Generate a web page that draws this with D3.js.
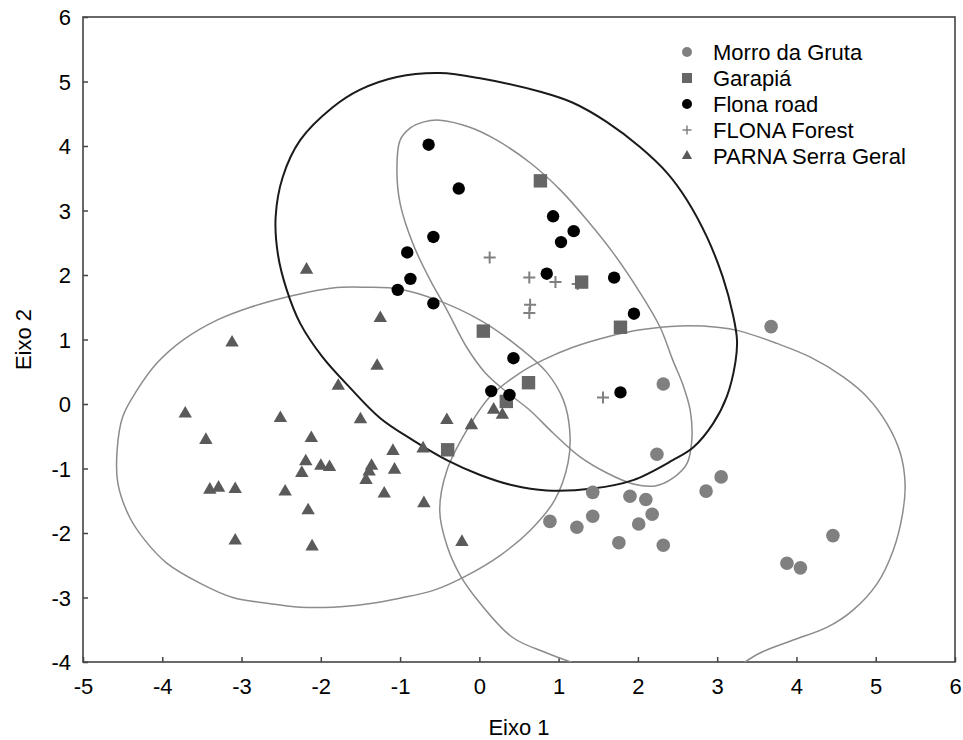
<!DOCTYPE html>
<html>
<head>
<meta charset="utf-8">
<script src="https://cdn.jsdelivr.net/npm/d3@7"></script>
<style>
  body { margin: 0; background: white; }
  svg text { font-family: "Liberation Sans", Arial, sans-serif; fill: #000; }
</style>
</head>
<body>
<script>
// ---- data ----
const groups = ["Morro da Gruta", "Garapiá", "Flona road", "FLONA Forest", "PARNA Serra Geral"]

const morroDaGruta = [[2.32,0.31],[2.24,-0.78],[3.05,-1.13],[2.86,-1.35],[1.43,-1.37],[1.90,-1.43],
  [2.10,-1.48],[1.43,-1.74],[2.18,-1.71],[0.89,-1.82],[1.23,-1.91],[2.01,-1.86],[1.76,-2.15],
  [2.32,-2.19],[4.46,-2.04],[3.88,-2.47],[4.05,-2.54],[3.68,1.20]]

const garapia = [[0.77,3.46],[1.29,1.89],[1.78,1.19],[0.05,1.13],[0.62,0.33],[0.34,0.04],[-0.40,-0.71]]

const flonaRoad = [[-0.64,4.02],[-0.26,3.34],[-0.58,2.59],[-0.91,2.35],[-0.87,1.94],[-1.03,1.77],
  [-0.58,1.56],[0.93,2.91],[1.19,2.68],[1.03,2.51],[0.85,2.02],[1.70,1.96],[1.95,1.40],
  [0.43,0.71],[0.15,0.20],[0.38,0.14],[1.78,0.18]]

const flonaForest = [[0.13,2.27],[0.63,1.96],[0.96,1.89],[1.24,1.86],[0.64,1.54],[0.63,1.41],[1.56,0.10]]

const parna = [[-2.18,2.08],[-1.25,1.33],[-3.12,0.95],[-1.29,0.59],[-1.78,0.28],[-3.71,-0.15],
  [-2.51,-0.22],[-1.50,-0.24],[-3.45,-0.56],[-2.12,-0.53],[-1.09,-0.73],[-2.19,-0.89],
  [-2.24,-1.07],[-2.00,-0.96],[-1.89,-0.98],[-1.36,-0.96],[-1.39,-1.05],[-1.43,-1.18],
  [-1.07,-1.02],[-3.40,-1.33],[-3.29,-1.30],[-3.08,-1.32],[-2.45,-1.36],[-1.20,-1.39],
  [-2.16,-1.65],[-3.08,-2.12],[-2.11,-2.21],[-0.41,-0.25],[-0.10,-0.33],[-0.71,-0.69],
  [0.18,-0.09],[0.29,-0.17],[-0.70,-1.54],[-0.22,-2.14]]

// outlines of the confidence regions, in axis units
const outlineFlonaRoad = [[-0.50,5.13],[0.01,5.05],[0.77,4.84],[1.18,4.67],[1.61,4.37],[2.03,3.98],
  [2.37,3.58],[2.62,3.16],[2.87,2.59],[3.07,1.97],[3.20,1.38],[3.25,0.99],[3.23,0.65],[3.12,0.11],
  [2.95,-0.30],[2.70,-0.67],[2.44,-0.87],[1.94,-1.18],[1.43,-1.31],[0.85,-1.34],[0.42,-1.26],
  [0.01,-1.10],[-0.41,-0.87],[-0.84,-0.56],[-1.25,-0.22],[-1.63,0.25],[-1.98,0.73],[-2.26,1.25],
  [-2.43,1.77],[-2.54,2.31],[-2.57,2.90],[-2.48,3.52],[-2.26,4.09],[-1.85,4.60],[-1.51,4.87],[-1.04,5.07]]

const outlineNarrow = [[-0.50,4.40],[-0.12,4.29],[0.22,4.09],[0.64,3.74],[1.02,3.32],[1.36,2.85],
  [1.69,2.34],[2.03,1.72],[2.28,1.19],[2.44,0.68],[2.57,0.29],[2.66,-0.10],[2.68,-0.56],[2.62,-0.92],
  [2.44,-1.15],[2.22,-1.27],[1.94,-1.24],[1.61,-1.07],[1.27,-0.82],[0.93,-0.45],[0.64,-0.10],
  [0.32,0.21],[0.07,0.49],[-0.16,0.88],[-0.41,1.46],[-0.62,1.92],[-0.84,2.49],[-1.00,3.11],
  [-1.04,3.63],[-1.00,4.09],[-0.87,4.28],[-0.71,4.37]]

const outlineParna = [[-1.85,1.80],[-1.42,1.81],[-1.00,1.78],[-0.53,1.61],[0.01,1.30],[0.51,0.87],
  [0.85,0.49],[1.06,0.06],[1.14,-0.41],[1.12,-0.90],[0.95,-1.49],[0.64,-1.96],[0.26,-2.35],
  [-0.16,-2.66],[-0.58,-2.89],[-1.00,-3.01],[-1.42,-3.10],[-1.85,-3.15],[-2.26,-3.15],[-2.68,-3.09],
  [-3.11,-3.00],[-3.52,-2.78],[-3.94,-2.47],[-4.22,-2.11],[-4.41,-1.76],[-4.56,-1.23],[-4.57,-0.72],
  [-4.50,-0.20],[-4.32,0.21],[-4.07,0.63],[-3.74,0.99],[-3.31,1.30],[-2.89,1.50],[-2.43,1.66]]

// this one runs off the bottom of the plot, so it is drawn open
const outlineMorro = [[3.29,-4.05],[3.54,-3.86],[3.96,-3.66],[4.39,-3.46],[4.71,-3.20],[5.02,-2.78],
  [5.22,-2.27],[5.34,-1.69],[5.37,-1.23],[5.31,-0.76],[5.14,-0.30],[4.89,0.11],[4.59,0.42],
  [4.17,0.73],[3.75,0.94],[3.29,1.13],[3.00,1.19],[2.53,1.21],[2.03,1.15],[1.61,1.04],[1.18,0.88],
  [0.80,0.68],[0.51,0.48],[0.13,0.11],[-0.16,-0.41],[-0.41,-1.03],[-0.50,-1.65],[-0.41,-2.19],
  [-0.24,-2.66],[0.01,-3.09],[0.42,-3.62],[0.85,-3.86],[1.27,-4.05]]

const xTicks = [-5,-4,-3,-2,-1,0,1,2,3,4,5,6]
const yTicks = [-4,-3,-2,-1,0,1,2,3,4,5,6]

// ---- layout ----
const W = 963, H = 740
const margin = {top: 17, right: 8, bottom: 78, left: 83}
const width = W - margin.left - margin.right
const height = H - margin.top - margin.bottom

const svg = d3.select("body").append("svg")
    .attr("width", W)
    .attr("height", H)

const g = svg.append("g")
    .attr("transform", "translate(" + margin.left + "," + margin.top + ")")

let x = d3.scaleLinear().domain([-5, 6]).range([0, width])
let y = d3.scaleLinear().domain([-4, 6]).range([height, 0])

g.append("clipPath").attr("id", "plotClip")
  .append("rect").attr("width", width).attr("height", height)

// axes, ticks pointing inward, plain hyphen for negatives
const fmt = d => String(d)
let xAxis = g.append("g")
    .attr("transform", "translate(0," + height + ")")
    .call(d3.axisBottom(x).tickValues(xTicks).tickFormat(fmt).tickSizeInner(-5).tickSizeOuter(0).tickPadding(16))
let yAxis = g.append("g")
    .call(d3.axisLeft(y).tickValues(yTicks).tickFormat(fmt).tickSizeInner(-5).tickSizeOuter(0).tickPadding(12))

;[xAxis, yAxis].forEach(a => {
  a.select(".domain").remove()
  a.selectAll("line").attr("stroke", "#444").attr("stroke-width", 1.5)
  a.selectAll("text").style("font-size", "22px").attr("fill", "#000")
      .style("font-family", "'Liberation Sans', Arial, sans-serif")
})
yAxis.selectAll("text").attr("dy", "0.36em")
xAxis.selectAll("text").attr("dy", "0.71em")

g.append("rect")
    .attr("width", width).attr("height", height)
    .attr("fill", "none").attr("stroke", "#444").attr("stroke-width", 1.6)

// axis titles
svg.append("text")
    .attr("x", margin.left + width / 2)
    .attr("y", 735)
    .attr("text-anchor", "middle")
    .style("font-size", "22px")
    .text("Eixo 1")

svg.append("text")
    .attr("transform", "translate(31," + (margin.top + height / 2) + ") rotate(-90)")
    .attr("text-anchor", "middle")
    .style("font-size", "22px")
    .text("Eixo 2")

// confidence outlines
const plot = g.append("g").attr("clip-path", "url(#plotClip)")
const closedLine = d3.line().x(d => x(d[0])).y(d => y(d[1])).curve(d3.curveCatmullRomClosed)
const openLine = d3.line().x(d => x(d[0])).y(d => y(d[1])).curve(d3.curveCatmullRom)

plot.append("path").datum(outlineParna).attr("d", closedLine)
    .attr("fill", "none").attr("stroke", "#8c8c8c").attr("stroke-width", 1.5)
plot.append("path").datum(outlineMorro).attr("d", openLine)
    .attr("fill", "none").attr("stroke", "#8c8c8c").attr("stroke-width", 1.5)
plot.append("path").datum(outlineNarrow).attr("d", closedLine)
    .attr("fill", "none").attr("stroke", "#8c8c8c").attr("stroke-width", 1.5)
plot.append("path").datum(outlineFlonaRoad).attr("d", closedLine)
    .attr("fill", "none").attr("stroke", "#1a1a1a").attr("stroke-width", 2)

// markers
const plusPath = s => "M" + (-s) + ",0H" + s + "M0," + (-s) + "V" + s

function drawMarkers(data, kind) {
  let sel = plot.selectAll(null).data(data).enter()
  if (kind === "morro") {
    sel.append("circle").attr("cx", d => x(d[0])).attr("cy", d => y(d[1])).attr("r", 6.8).attr("fill", "#808080")
  } else if (kind === "road") {
    sel.append("circle").attr("cx", d => x(d[0])).attr("cy", d => y(d[1])).attr("r", 6.2).attr("fill", "#000")
  } else if (kind === "square") {
    sel.append("rect").attr("x", d => x(d[0]) - 6.7).attr("y", d => y(d[1]) - 6.7)
        .attr("width", 13.4).attr("height", 13.4).attr("fill", "#666")
  } else if (kind === "plus") {
    sel.append("path").attr("transform", d => "translate(" + x(d[0]) + "," + y(d[1]) + ")")
        .attr("d", plusPath(6)).attr("stroke", "#808080").attr("stroke-width", 2).attr("fill", "none")
  } else if (kind === "tri") {
    sel.append("path").attr("transform", d => "translate(" + x(d[0]) + "," + y(d[1]) + ")")
        .attr("d", d3.symbol().type(d3.symbolTriangle).size(78)).attr("fill", "#5a5a5a")
  }
}
drawMarkers(parna, "tri")
drawMarkers(morroDaGruta, "morro")
drawMarkers(flonaForest, "plus")
drawMarkers(garapia, "square")
drawMarkers(flonaRoad, "road")

// legend
const kinds = ["morro", "square", "road", "plus", "tri"]
const legend = svg.append("g").attr("transform", "translate(687,52)")
groups.forEach((name, i) => {
  let row = legend.append("g").attr("transform", "translate(0," + (i * 26) + ")")
  let k = kinds[i]
  if (k === "morro") row.append("circle").attr("r", 5).attr("fill", "#808080")
  if (k === "road") row.append("circle").attr("r", 5).attr("fill", "#000")
  if (k === "square") row.append("rect").attr("x", -5).attr("y", -5).attr("width", 10).attr("height", 10).attr("fill", "#666")
  if (k === "plus") row.append("path").attr("d", plusPath(4.5)).attr("stroke", "#808080").attr("stroke-width", 1.5)
  if (k === "tri") row.append("path").attr("d", d3.symbol().type(d3.symbolTriangle).size(45)).attr("fill", "#5a5a5a")
  row.append("text").attr("x", 26).attr("dy", "0.36em").style("font-size", "22px").text(name)
})
</script>
</body>
</html>
